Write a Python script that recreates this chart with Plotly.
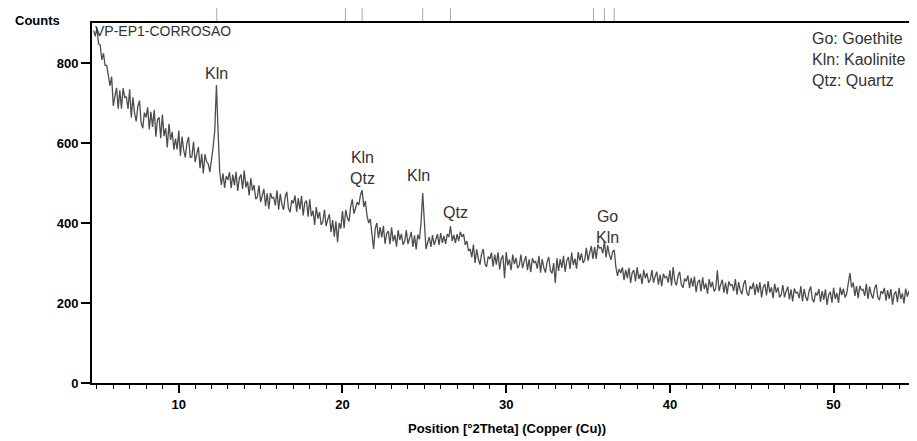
import plotly.graph_objects as go

# ---- data ----
start_deg = 4.8
step_deg = 0.1
counts = [
    881, 867, 888, 848, 845, 808, 824, 794, 794, 763,   # 4.8 - 5.7
    743, 766, 693, 717, 738, 686, 732, 686, 737, 714,   # 5.8 - 6.7
    715, 685, 734, 664, 714, 675, 654, 692, 706, 651,   # 6.8 - 7.7
    637, 676, 664, 689, 634, 678, 640, 683, 616, 658,   # 7.8 - 8.7
    664, 612, 671, 617, 637, 589, 648, 608, 628, 583,   # 8.8 - 9.7
    611, 584, 631, 568, 616, 582, 564, 600, 615, 564,   # 9.8 - 10.7
    565, 603, 552, 573, 590, 537, 573, 524, 572, 553,   # 10.8 - 11.7
    548, 527, 556, 590, 632, 745, 630, 528, 495, 524,   # 11.8 - 12.7
    488, 517, 508, 527, 487, 521, 494, 528, 480, 512,   # 12.8 - 13.7
    521, 485, 531, 489, 504, 469, 512, 481, 495, 460,   # 13.8 - 14.7
    465, 494, 452, 470, 485, 442, 474, 435, 475, 462,   # 14.8 - 15.7
    464, 444, 482, 433, 473, 447, 433, 465, 478, 437,   # 15.8 - 16.7
    427, 457, 449, 469, 428, 462, 434, 468, 419, 451,   # 16.8 - 17.7
    456, 416, 459, 417, 431, 395, 440, 411, 427, 395,   # 17.8 - 18.7
    403, 433, 392, 409, 422, 377, 407, 366, 404, 352,   # 18.8 - 19.7
    400, 386, 430, 387, 433, 413, 404, 441, 459, 423,   # 19.8 - 20.7
    440, 452, 445, 470, 482, 440, 455, 418, 400, 410,   # 20.8 - 21.7
    373, 335, 386, 400, 362, 390, 364, 393, 348, 374,   # 21.8 - 22.7
    380, 347, 389, 354, 370, 341, 382, 357, 373, 346,   # 22.8 - 23.7
    354, 382, 347, 363, 378, 340, 369, 334, 371, 359,   # 23.8 - 24.7
    400, 475, 390, 335, 350, 365, 340, 370, 345, 362,   # 24.8 - 25.7
    372, 345, 375, 350, 368, 348, 372, 365, 392, 355,   # 25.8 - 26.7
    370, 350, 372, 355, 378, 365, 372, 345, 355, 330,   # 26.8 - 27.7
    335, 314, 346, 300, 334, 310, 296, 323, 335, 299,   # 27.8 - 28.7
    290, 316, 310, 326, 291, 321, 296, 327, 284, 311,   # 28.8 - 29.7
    319, 262, 327, 294, 309, 282, 321, 297, 313, 287,   # 29.8 - 30.7
    294, 321, 287, 304, 317, 282, 309, 277, 312, 301,   # 30.8 - 31.7
    304, 286, 318, 276, 310, 288, 276, 303, 315, 281,   # 31.8 - 32.7
    274, 300, 250, 312, 280, 310, 288, 318, 278, 306,   # 32.8 - 33.7
    315, 285, 326, 295, 311, 286, 327, 306, 324, 300,   # 33.8 - 34.7
    308, 338, 306, 325, 342, 310, 340, 310, 346, 337,   # 34.8 - 35.7
    339, 324, 354, 314, 344, 321, 308, 328, 333, 290,   # 35.8 - 36.7
    268, 285, 275, 289, 257, 283, 262, 288, 250, 276,   # 36.8 - 37.7
    282, 254, 289, 260, 273, 247, 283, 262, 275, 251,   # 37.8 - 38.7
    258, 282, 251, 267, 278, 246, 271, 242, 273, 263,   # 38.8 - 39.7
    266, 251, 282, 243, 290, 254, 244, 268, 278, 246,   # 39.8 - 40.7
    238, 261, 254, 269, 237, 263, 241, 266, 227, 252,   # 40.8 - 41.7
    258, 229, 264, 235, 249, 223, 260, 239, 253, 229,   # 41.8 - 42.7
    236, 282, 230, 246, 258, 226, 251, 222, 254, 244,   # 42.8 - 43.7
    246, 230, 260, 221, 252, 232, 222, 247, 257, 226,   # 43.8 - 44.7
    218, 242, 235, 251, 220, 247, 226, 252, 214, 240,   # 44.8 - 45.7
    247, 219, 255, 226, 239, 212, 248, 226, 239, 214,   # 45.8 - 46.7
    221, 245, 214, 229, 241, 209, 234, 204, 236, 225,   # 46.8 - 47.7
    227, 212, 242, 204, 235, 215, 205, 230, 241, 210,   # 47.8 - 48.7
    202, 226, 219, 235, 203, 230, 208, 234, 195, 221,   # 48.8 - 49.7
    228, 201, 238, 210, 225, 200, 239, 220, 236, 214,   # 49.8 - 50.7
    223, 250, 275, 239, 251, 218, 242, 212, 243, 232,   # 50.8 - 51.7
    234, 218, 248, 210, 241, 221, 211, 236, 246, 215,   # 51.8 - 52.7
    207, 230, 223, 238, 206, 232, 210, 235, 196, 222,   # 52.8 - 53.7
    229, 202, 238, 210, 224, 199, 236, 216, 230, 206,   # 53.8 - 54.7
    220,                                                # 54.8
]
two_theta = [round(start_deg + step_deg * i, 2) for i in range(len(counts))]

ref_positions = [12.32, 20.18, 21.2, 24.9, 26.6, 35.33, 36.0, 36.6]

peak_labels = ["Kln", "Kln<br>Qtz", "Kln", "Qtz", "Go<br>Kln"]
peak_label_x = [12.3, 21.2, 24.65, 26.9, 36.2]
peak_label_y = [775, 537, 520, 427, 390]

y_ticks = [0, 200, 400, 600, 800]
x_ticks = [10, 20, 30, 40, 50]

sample_name = "VP-EP1-CORROSAO"
legend_text = "Go: Goethite<br>Kln: Kaolinite<br>Qtz: Quartz"

FONT = "Liberation Sans, Arial, sans-serif"
TXT = "#333333"

fig = go.Figure()
fig.add_trace(go.Scatter(
    x=two_theta, y=counts, mode="lines",
    line=dict(color="#4d4d4d", width=1.3),
    showlegend=False, hoverinfo="skip",
))

# reference pattern markers above the plot
for p in ref_positions:
    fig.add_shape(type="line", xref="x", yref="paper", x0=p, x1=p,
                  y0=1.0, y1=1.0 + 16 / 360, line=dict(color="#aaaaaa", width=1),
                  layer="below")

for t, xx, yy in zip(peak_labels, peak_label_x, peak_label_y):
    fig.add_annotation(x=xx, y=yy, xref="x", yref="y", text=t, showarrow=False,
                       font=dict(family=FONT, size=16, color=TXT),
                       xanchor="center", yanchor="middle")

fig.add_annotation(x=0.0, y=1.0, xref="paper", yref="paper", text=sample_name,
                   showarrow=False, xanchor="left", yanchor="top",
                   font=dict(family=FONT, size=14, color=TXT), xshift=1, yshift=2)

fig.add_annotation(x=(812 - 92) / 823, y=1 - (28 - 23) / 360, xref="paper", yref="paper",
                   text=legend_text, showarrow=False, xanchor="left", yanchor="top",
                   align="left", font=dict(family=FONT, size=16, color=TXT),
                   bgcolor="white")

fig.add_annotation(x=(37 - 92) / 823, y=1 + (23 - 20) / 360, xref="paper", yref="paper",
                   text="<b>Counts</b>", showarrow=False, xanchor="center", yanchor="middle",
                   font=dict(family=FONT, size=13, color="black"))

fig.add_annotation(x=(508 - 92) / 823, y=(383 - 428) / 360, xref="paper", yref="paper",
                   text="<b>Position [°2Theta] (Copper (Cu))</b>", showarrow=False,
                   xanchor="center", yanchor="middle",
                   font=dict(family=FONT, size=13, color="black"))

# the page body has an 8px margin, so the figure is sized to end at the window edge
fig.update_layout(
    width=909, height=433,
    margin=dict(l=84, r=2, t=15, b=58),
    paper_bgcolor="white", plot_bgcolor="white",
    font=dict(family=FONT, size=13, color="black"),
    xaxis=dict(
        range=[4.7, 54.85], tickvals=x_ticks,
        ticktext=["<b>%d</b>" % v for v in x_ticks],
        ticks="outside", ticklen=8, tickwidth=1.5, tickcolor="black",
        minor=dict(dtick=1, ticks="outside", ticklen=4, tickwidth=1, tickcolor="black"),
        showline=True, linecolor="black", linewidth=2, mirror=True,
        showgrid=False, zeroline=False, fixedrange=True,
    ),
    yaxis=dict(
        range=[0, 900], tickvals=y_ticks,
        ticktext=["<b>%d</b>" % v for v in y_ticks],
        ticks="outside", ticklen=9, tickwidth=1.5, tickcolor="black",
        showline=True, linecolor="black", linewidth=2, mirror=True,
        showgrid=False, zeroline=False, fixedrange=True,
    ),
)

fig.write_html("out.html")
